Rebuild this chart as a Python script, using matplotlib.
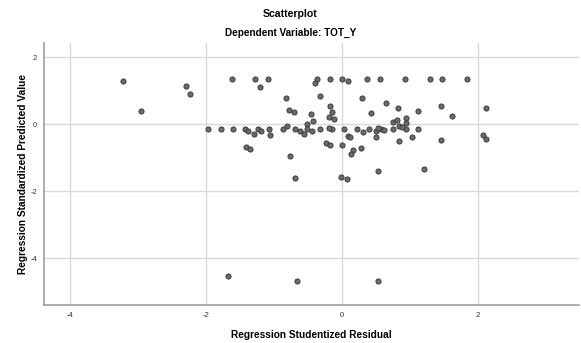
import numpy as np
import matplotlib
matplotlib.use("Agg")
from matplotlib import pyplot as plt

plt.rcParams['font.family'] = ['Liberation Sans', 'DejaVu Sans']
plt.rcParams['axes.unicode_minus'] = False

# studentized residual (x) / standardized predicted value (y)
resid = [-1.62, -1.28, -1.09, -0.365, -0.18, 0.0, 0.374, 0.555, 0.924, 1.289, 1.474, 1.844,
         -3.22, -2.955, -2.30, -2.236, -1.97,
         -1.213, -0.398, 0.085,
         -0.829, -0.332, 0.289,
         -0.782, -0.711, -0.464, -0.175, -0.152, -0.19, -0.125, -0.427, -0.515, -0.815,
         -1.787, -1.605, -1.427, -1.242, -1.081, -0.877, -0.697, -0.515, -0.332, -0.142,
         0.033, 0.213, 0.398, 0.578, 0.756, 0.948, 1.123,
         -0.19,
         -1.384, -1.194, -0.618, -0.441, 0.308, 0.498, 0.616,
         -0.555, -1.296, -1.064,
         0.081, 0.118, 0.498,
         -0.237, -0.178, 0.0, 0.282, 0.166, 0.13,
         -1.41, -1.36, -0.76,
         0.427, 0.654, 0.82, 1.123, 1.464, 1.626, 2.114,
         0.744, 0.81, 0.948, 0.948, 0.84, 0.884, 0.525,
         0.834, 1.024, 1.46, 2.076, 2.114,
         0.536, 1.204,
         -0.70, -0.01, 0.068,
         -1.676, -0.663, 0.536]
pred = [1.337, 1.356, 1.356, 1.356, 1.356, 1.356, 1.356, 1.356, 1.356, 1.356, 1.356, 1.356,
        1.29, 0.376, 1.13, 0.89, -0.149,
        1.12, 1.218, 1.287,
        0.782, 0.842, 0.772,
        0.416, 0.356, 0.29, 0.525, 0.347, 0.213, 0.149, 0.079, 0.01, -0.05,
        -0.149, -0.149, -0.149, -0.149, -0.149, -0.149, -0.149, -0.149, -0.149, -0.149,
        -0.149, -0.149, -0.149, -0.149, -0.149, -0.149, -0.149,
        -0.129,
        -0.198, -0.198, -0.218, -0.22, -0.238, -0.22, -0.19,
        -0.287, -0.297, -0.33,
        -0.36, -0.396, -0.396,
        -0.564, -0.63, -0.62, -0.708, -0.762, -0.901,
        -0.673, -0.733, -0.941,
        0.317, 0.634, 0.465, 0.396, 0.535, 0.228, 0.465,
        0.05, 0.129, 0.178, 0.03, -0.055, -0.099, -0.105,
        -0.515, -0.386, -0.485, -0.337, -0.446,
        -1.41, -1.345,
        -1.62, -1.58, -1.65,
        -4.537, -4.687, -4.687]

x_ticks = [-4, -2, 0, 2]
y_ticks = [2, 0, -2, -4]

fig = plt.figure(figsize=(5.81, 3.43), dpi=100)
ax = fig.add_axes([44/581, 38/343, 535/581, 262/343])

ax.scatter(resid, pred, s=14, facecolor='#6a6a6a', edgecolor='#333333', linewidth=0.6, zorder=3)

ax.set_xlim(-4.39, 3.49)
ax.set_ylim(-5.40, 2.42)
ax.set_xticks(x_ticks)
ax.set_yticks(y_ticks)
ax.grid(True, color='#d9d9d9', linewidth=1.0)
ax.set_axisbelow(True)
ax.tick_params(length=0, labelsize=5.5, labelcolor='#333333', pad=5)
for s in ['top', 'right']:
    ax.spines[s].set_visible(False)
for s in ['left', 'bottom']:
    ax.spines[s].set_color('#a0a0a0')
    ax.spines[s].set_linewidth(1.2)

ax.set_xlabel('Regression Studentized Residual', fontsize=7.3, fontweight='bold', labelpad=8)
ax.set_ylabel('Regression Standardized Predicted Value', fontsize=7.3, fontweight='bold', labelpad=2)

fig.text(0.5, 1 - 14/343, 'Scatterplot', ha='center', va='center', fontsize=7.6, fontweight='bold')
fig.text(0.5, 1 - 33/343, 'Dependent Variable: TOT_Y', ha='center', va='center', fontsize=7.2, fontweight='bold')

fig.savefig('out.png', dpi=100)
